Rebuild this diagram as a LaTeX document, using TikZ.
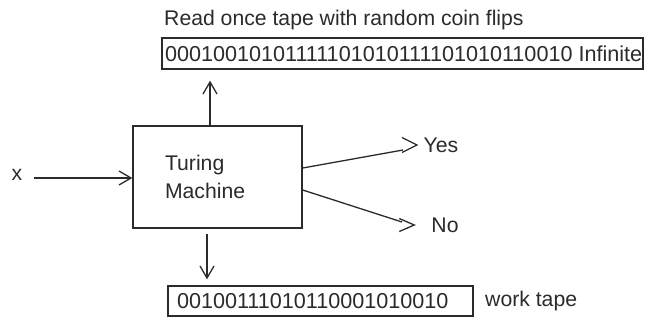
\documentclass[tikz,border=0pt]{standalone}
\usepackage{fontspec}
\setmainfont{Liberation Sans}
\usetikzlibrary{arrows.meta}
\definecolor{ink}{HTML}{2B2B2B}
\begin{document}
\begin{tikzpicture}[x=1pt,y=-1pt,
  every node/.style={text=ink, font=\fontsize{21.2}{28}\selectfont, inner sep=0pt},
  box/.style={draw=ink, line width=1.4pt},
  conn/.style={draw=ink, line width=1.3pt},
  arr/.style={conn, -{Straight Barb[length=12pt,width=14pt]}},
  chev/.style={conn, line join=miter},
]
\useasboundingbox[fill=white] (0,0) rectangle (650,322);
\node[anchor=west] (label) at (164,20) {Read once tape with random coin flips};
\node[box, minimum width=481pt, minimum height=31pt, inner xsep=3pt] (ttape) at (402.5,53.5)
  {\makebox[475pt][l]{\fontsize{21.6}{26}\selectfont 00010010101111101010111101010110010 Infinite}};
\node[box, minimum height=102pt, text width=105pt, inner xsep=32pt, align=left] (tm) at (217.5,177)
  {Turing\\Machine};
\node[box, minimum height=30pt, inner xsep=9pt] (btape) at (320.5,301)
  {\makebox[287pt][l]{\fontsize{21.6}{26}\selectfont 00100111010110001010010}};
\node[anchor=west] (work) at (485,301) {work tape};
\node (x) at (17,175) {x};
\node (yes) at (441,145) {Yes};
\node (no) at (445,225) {No};
\coordinate (yesend) at (403,150);
\coordinate (noend) at (402,222);
% input arrow
\draw[arr, shorten <=11pt] (x.east |- 0,178) -- (tm.west |- 0,178);
% up arrow to random tape
\draw[arr, shorten >=11pt] ([xshift=-7.5pt]tm.north) -- ([xshift=-7.5pt]tm.north |- ttape.south);
% down arrow to work tape
\draw[arr, shorten <=5pt, shorten >=6pt] ([xshift=-10.5pt]tm.south) -- ([xshift=-10.5pt]tm.south |- btape.north);
% yes / no
\draw[conn] ([yshift=9pt]tm.east) -- (yesend);
\draw[chev] ([xshift=-6.5pt]yes.west) ++(-15,-7.5) -- ([xshift=-6.5pt]yes.west) -- ++(-15,7.5);
\draw[conn] ([yshift=-13pt]tm.east) -- (noend);
\draw[chev] ([xshift=-17pt]no.west) ++(-15,-6.5) -- ([xshift=-17pt]no.west) -- ++(-15,6.5);
\end{tikzpicture}
\end{document}
